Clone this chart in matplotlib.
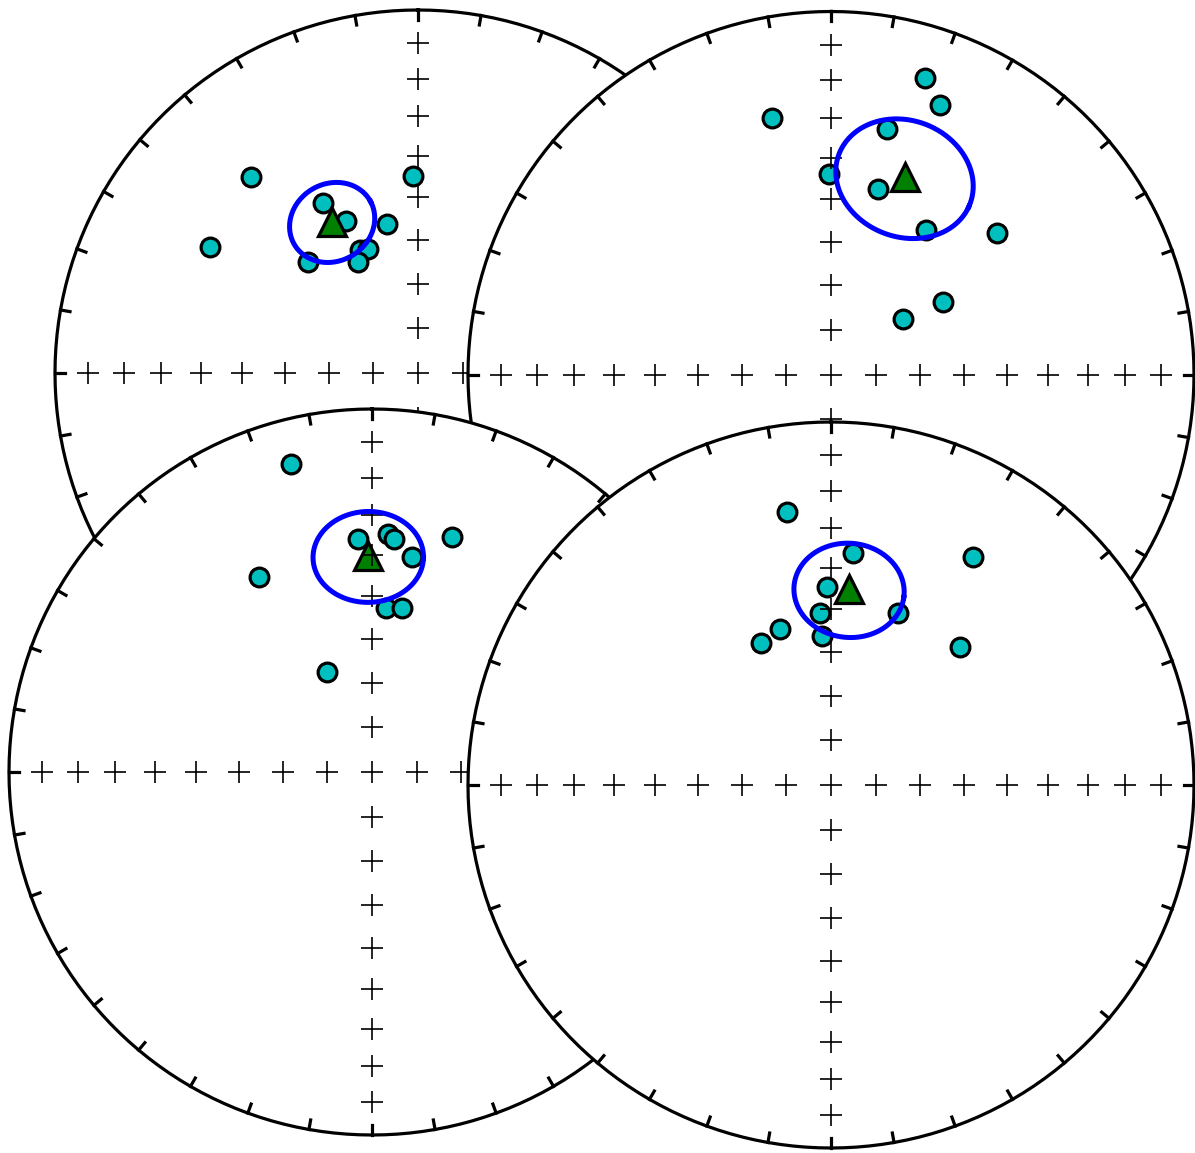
import numpy as np
import matplotlib.pyplot as plt
from matplotlib.patches import Circle

# Site directions: declination / inclination (degrees), lower hemisphere
site1_dec = [319.6, 301.2, 358.5, 330.8, 334.7, 348.2, 334.7, 338.0, 315.3, 331.6]
site1_inc = [29.8, 33.5, 44.9, 45.4, 51.8, 55.5, 59.3, 59.8, 54.6, 61.6]

site2_dec = [17.6, 22.1, 347.0, 12.8, 359.5, 14.1, 33.2, 49.6, 57.1, 52.2]
site2_inc = [15.4, 21.1, 28.4, 31.2, 43.9, 46.2, 50.6, 39.8, 59.9, 69.5]

site3_dec = [345.2, 330.0, 335.9, 356.6, 3.9, 5.4, 10.4, 18.7, 4.8, 10.5]
site3_inc = [13.4, 37.9, 65.4, 36.0, 34.7, 35.8, 39.5, 32.1, 52.5, 52.0]

site4_dec = [350.8, 31.8, 5.5, 358.9, 356.3, 21.3, 356.4, 341.9, 333.6, 43.1]
site4_inc = [24.7, 26.9, 35.9, 44.6, 50.7, 47.8, 56.3, 52.8, 54.1, 46.9]

# Fisher means and alpha95 for each site
mean_dec = [330.3, 20.6, 359.0, 5.3]
mean_inc = [50.4, 41.5, 40.2, 45.0]
alpha95 = [9.2, 14.3, 11.2, 11.4]

W, H = 1195, 1153
fig = plt.figure(figsize=(W / 100, H / 100), dpi=100)


def dimap(dec, inc):
    # equal-area (Schmidt) projection, north up
    d = np.radians(np.asarray(dec, float))
    i = np.radians(np.asarray(inc, float))
    r = np.sqrt(1 - np.abs(np.sin(i)))
    return r * np.sin(d), r * np.cos(d)


def circ(dec, inc, alpha, npts=201):
    # small circle of radius alpha about (dec, inc)
    d, i, a = np.radians([dec, inc, alpha])
    m = np.array([np.cos(d) * np.cos(i), np.sin(d) * np.cos(i), np.sin(i)])
    u = np.array([-np.sin(d), np.cos(d), 0.0])
    w = np.cross(m, u)
    psi = np.linspace(0, 2 * np.pi, npts)
    v = (np.cos(a) * m[:, None]
         + np.sin(a) * (np.cos(psi) * u[:, None] + np.sin(psi) * w[:, None]))
    return np.degrees(np.arctan2(v[1], v[0])), np.degrees(np.arcsin(v[2]))


def net(ax):
    ax.add_patch(Circle((0, 0), 1, fc='white', ec='none', zorder=0))
    X, Y = dimap(np.arange(0, 361.), np.zeros(361))
    ax.plot(X, Y, 'k', lw=2.3, zorder=3)
    for D in range(0, 360, 10):
        X, Y = dimap([D] * 4, range(4))
        ax.plot(X, Y, 'k', lw=2.3, zorder=3)
    for D, top in [(0, 100), (90, 90), (180, 90), (270, 90)]:
        X, Y = dimap([D] * len(range(10, top, 10)), range(10, top, 10))
        ax.plot(X, Y, 'k+', ms=16, mew=1.2, zorder=3)


# (centre x, centre y, radius) in pixels, drawn back to front
nets = [(418, 373, 363), (831, 374.5, 363), (372, 772, 363), (831, 785, 363)]
sites = [(site1_dec, site1_inc), (site2_dec, site2_inc),
         (site3_dec, site3_inc), (site4_dec, site4_inc)]

for k, ((cx, cy, R), (dec, inc)) in enumerate(zip(nets, sites)):
    ax = fig.add_axes([(cx - 1.05 * R) / W, (H - cy - 1.05 * R) / H,
                       2.1 * R / W, 2.1 * R / H])
    ax.set_zorder(k + 1)
    ax.set_xlim(-1.05, 1.05)
    ax.set_ylim(-1.05, 1.05)
    ax.axis('off')

    X, Y = dimap(dec, inc)
    ax.plot(X, Y, 'o', color='c', mec='k', ms=13.5, mew=2.3, zorder=2)
    mx, my = dimap(mean_dec[k], mean_inc[k])
    ax.plot(mx, my, '^', color='g', mec='k', ms=20, mew=2.3, zorder=2.5)
    net(ax)
    cd, ci = circ(mean_dec[k], mean_inc[k], alpha95[k])
    X, Y = dimap(cd, ci)
    ax.plot(X, Y, 'b-', lw=3.6, zorder=4)

plt.savefig('out.png', dpi=100)
